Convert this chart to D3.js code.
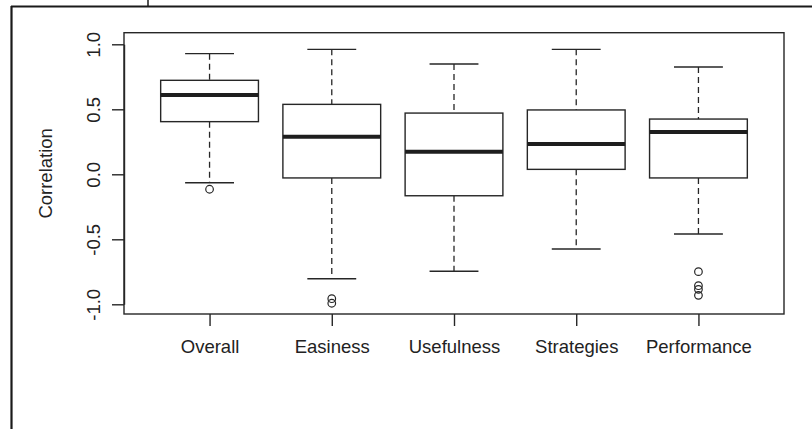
<!DOCTYPE html>
<html>
<head>
<meta charset="utf-8">
<script src="https://cdn.jsdelivr.net/npm/d3@7"></script>
<style>
  html, body { margin: 0; padding: 0; background: #fff; }
  svg { display: block; }
  text { font-family: "Liberation Sans", Arial, sans-serif; fill: #222; }
</style>
</head>
<body>
<svg id="chart" width="812" height="429"></svg>
<script>
// ---- data ----
const categories = ["Overall", "Easiness", "Usefulness", "Strategies", "Performance"];
const whiskerHigh = [0.928, 0.961, 0.848, 0.961, 0.825];
const q3Values    = [0.723, 0.538, 0.471, 0.495, 0.425];
const medians     = [0.610, 0.289, 0.174, 0.233, 0.325];
const q1Values    = [0.405, -0.028, -0.165, 0.038, -0.028];
const whiskerLow  = [-0.065, -0.803, -0.746, -0.575, -0.459];
const outliers    = [[-0.115], [-0.957, -0.992], [], [], [-0.749, -0.857, -0.885, -0.931]];
const yTicks      = [-1.0, -0.5, 0.0, 0.5, 1.0];
const yTitle      = "Correlation";

const svg = d3.select("#chart");
const plot = { left: 124, right: 784, top: 32.7, bottom: 314 };
const ink = "#262626";
const fs = 18.5;

// outer frame fragments of the surrounding figure
svg.append("line").attr("x1", 11).attr("x2", 812).attr("y1", 6.5).attr("y2", 6.5)
  .attr("stroke", "#1a1a1a").attr("stroke-width", 2.2);
svg.append("line").attr("x1", 11.5).attr("x2", 11.5).attr("y1", 6).attr("y2", 429)
  .attr("stroke", "#1a1a1a").attr("stroke-width", 2.2);
svg.append("line").attr("x1", 148).attr("x2", 148).attr("y1", 0).attr("y2", 6)
  .attr("stroke", "#1a1a1a").attr("stroke-width", 1.5);

const x = d3.scaleLinear().domain([0.3, categories.length + 0.7]).range([plot.left, plot.right]);
const y = d3.scaleLinear().domain([-1, 1]).range([304.3, 44.3]);
const step = x(2) - x(1);
const boxW = step * 0.8;
const capW = boxW * 0.5;

// plot frame
svg.append("rect")
  .attr("x", plot.left).attr("y", plot.top)
  .attr("width", plot.right - plot.left).attr("height", plot.bottom - plot.top)
  .attr("fill", "none").attr("stroke", ink).attr("stroke-width", 1.4);

// y axis
const yAxis = d3.axisLeft(y).tickValues(yTicks).tickSize(12).tickSizeOuter(0);
const gy = svg.append("g").attr("transform", `translate(${plot.left},0)`).call(yAxis);
gy.select(".domain").attr("stroke", ink).attr("stroke-width", 1.4);
gy.selectAll(".tick line").attr("stroke", ink).attr("stroke-width", 1.4);
gy.selectAll(".tick text")
  .attr("x", 0).attr("y", 0).attr("dy", null)
  .attr("transform", "translate(-24,0) rotate(-90)")
  .attr("text-anchor", "middle")
  .attr("font-size", fs).attr("fill", "#222")
  .text(d => d3.format(".1f")(d).replace("−", "-"));

svg.append("text")
  .attr("transform", `translate(52,${(plot.top + plot.bottom) / 2}) rotate(-90)`)
  .attr("text-anchor", "middle").attr("font-size", fs).text(yTitle);

// x axis
const xAxis = d3.axisBottom(x).tickValues(d3.range(1, categories.length + 1))
  .tickFormat(i => categories[i - 1]).tickSize(12).tickSizeOuter(0).tickPadding(14);
const gx = svg.append("g").attr("transform", `translate(0,${plot.bottom})`).call(xAxis);
gx.select(".domain").remove();
gx.selectAll(".tick line").attr("stroke", ink).attr("stroke-width", 1.4);
gx.selectAll(".tick text").attr("font-size", fs).attr("fill", "#222");

// boxes
const boxes = categories.map((c, i) => ({
  i: i + 1, hi: whiskerHigh[i], q3: q3Values[i], med: medians[i], q1: q1Values[i], lo: whiskerLow[i], out: outliers[i]
}));
const g = svg.append("g");
boxes.forEach(b => {
  const cx = x(b.i);
  g.append("line").attr("x1", cx).attr("x2", cx).attr("y1", y(b.hi)).attr("y2", y(b.q3))
    .attr("stroke", ink).attr("stroke-width", 1.3).attr("stroke-dasharray", "6,4");
  g.append("line").attr("x1", cx).attr("x2", cx).attr("y1", y(b.q1)).attr("y2", y(b.lo))
    .attr("stroke", ink).attr("stroke-width", 1.3).attr("stroke-dasharray", "6,4");
  [b.hi, b.lo].forEach(v => {
    g.append("line").attr("x1", cx - capW / 2).attr("x2", cx + capW / 2).attr("y1", y(v)).attr("y2", y(v))
      .attr("stroke", ink).attr("stroke-width", 1.4);
  });
  g.append("rect").attr("x", cx - boxW / 2).attr("y", y(b.q3))
    .attr("width", boxW).attr("height", y(b.q1) - y(b.q3))
    .attr("fill", "#fff").attr("stroke", ink).attr("stroke-width", 1.4);
  g.append("line").attr("x1", cx - boxW / 2).attr("x2", cx + boxW / 2).attr("y1", y(b.med)).attr("y2", y(b.med))
    .attr("stroke", "#1e1e1e").attr("stroke-width", 4);
  b.out.forEach(v => {
    g.append("circle").attr("cx", cx).attr("cy", y(v)).attr("r", 3.8)
      .attr("fill", "none").attr("stroke", ink).attr("stroke-width", 1.2);
  });
});
</script>
</body>
</html>
